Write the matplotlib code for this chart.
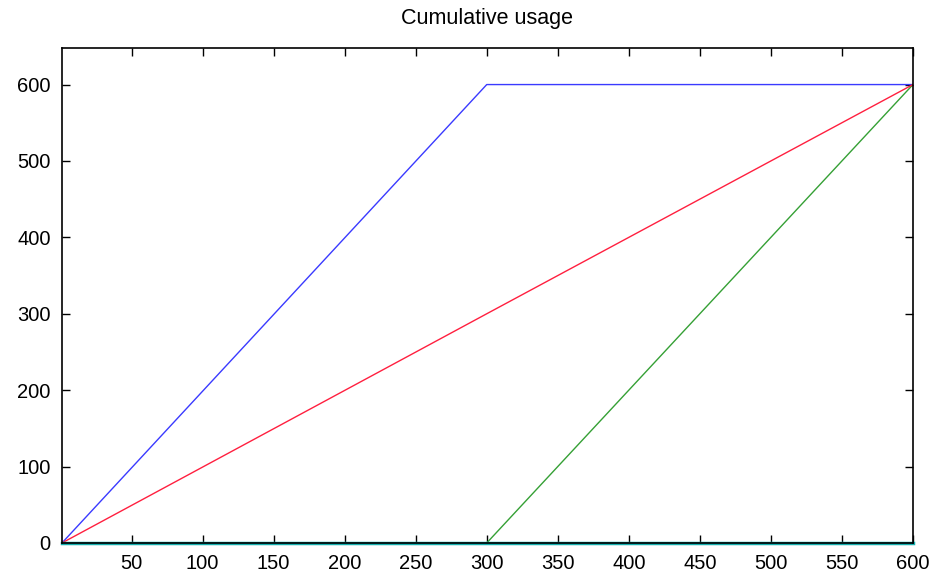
import matplotlib
matplotlib.use('Agg')
import matplotlib.pyplot as plt

# breakpoints of each cumulative series (step, usage)
steps = [1, 300, 600]
usage_blue = [0, 600, 600]
usage_red = [0, 300, 600]
usage_green = [0, 0, 600]
usage_cyan = [0, 0, 0]

xticks = list(range(50, 601, 50))
yticks = list(range(0, 601, 100))

plt.rcParams['font.family'] = ['Liberation Sans', 'DejaVu Sans']

fig = plt.figure(figsize=(9.49, 5.77), dpi=100)
ax = fig.add_axes([0.0653, 0.059, 0.8967, 0.858])

ax.plot(steps, usage_blue, color='#3a3aff', lw=1)
ax.plot(steps, usage_green, color='#35a035', lw=1)
ax.plot(steps, usage_red, color='#ff1f3f', lw=1)
# flat series sits on the x axis, keep it visible over the edge
ax.plot(steps, usage_cyan, color='#14b0b0', lw=2.5, clip_on=False, zorder=2)

ax.set_xlim(1, 600)
ax.set_ylim(0, 648)
ax.set_xticks(xticks)
ax.set_yticks(yticks)
ax.tick_params(direction='in', length=6, width=1, top=True, right=True,
               labelsize=14.5, pad=8)
for s in ax.spines.values():
    s.set_linewidth(1.2)
    s.set_zorder(2.5)
ax.set_title('Cumulative usage', fontsize=15.5, pad=17)

fig.savefig('out.png', dpi=100)
